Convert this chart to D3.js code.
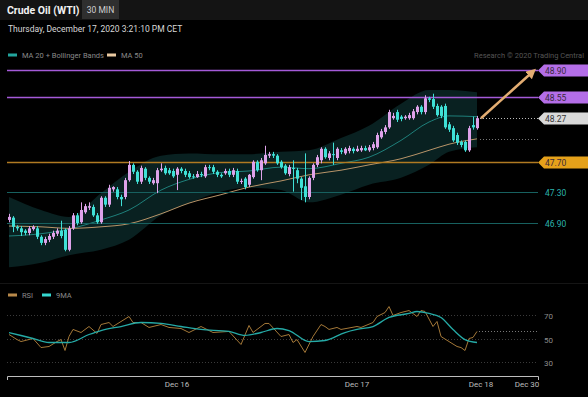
<!DOCTYPE html>
<html>
<head>
<meta charset="utf-8">
<script src="https://cdn.jsdelivr.net/npm/d3@7"></script>
<style>
  body { margin: 0; background: #000; overflow: hidden; }
  svg { display: block; font-family: Roboto, 'Liberation Sans', sans-serif; }
</style>
</head>
<body>
<svg id="chart" width="588" height="397"></svg>
<script>
// 30 min candles, Dec 15 evening -> Dec 17 15:00 CET
const opens = [
  46.94, 46.97, 46.85, 46.83, 46.80, 46.77, 46.82, 46.83, 46.72, 46.64,
  46.68, 46.72, 46.76, 46.80, 46.81, 46.55, 46.83, 47.00, 46.91, 47.04,
  47.10, 47.11, 47.00, 46.91, 47.23, 47.14, 47.34, 47.34, 47.24, 47.24,
  47.46, 47.66, 47.57, 47.44, 47.61, 47.49, 47.42, 47.42, 47.59, 47.62,
  47.59, 47.58, 47.53, 47.61, 47.58, 47.55, 47.51, 47.50, 47.54, 47.51,
  47.63, 47.63, 47.57, 47.53, 47.55, 47.58, 47.53, 47.58, 47.44, 47.48,
  47.40, 47.50, 47.70, 47.59, 47.68, 47.78, 47.80, 47.78, 47.70, 47.65,
  47.54, 47.62, 47.59, 47.48, 47.38, 47.24, 47.49, 47.66, 47.72, 47.87,
  47.75, 47.80, 47.75, 47.85, 47.81, 47.84, 47.87, 47.84, 47.85, 47.88,
  47.85, 47.88, 47.89, 48.02, 48.09, 48.15, 48.27, 48.35, 48.29, 48.27,
  48.27, 48.27, 48.35, 48.42, 48.35, 48.53, 48.52, 48.43, 48.42, 48.43,
  48.19, 48.14, 48.05, 47.96, 47.96, 47.85, 48.18, 48.14
];
const highs = [
  47.02, 46.99, 46.87, 46.86, 46.82, 46.86, 46.87, 46.86, 46.74, 46.72,
  46.76, 46.80, 46.83, 46.93, 46.83, 46.86, 47.03, 47.03, 47.17, 47.15,
  47.17, 47.14, 47.03, 47.25, 47.25, 47.40, 47.38, 47.37, 47.27, 47.49,
  47.71, 47.68, 47.59, 47.65, 47.63, 47.51, 47.49, 47.62, 47.68, 47.65,
  47.62, 47.61, 47.63, 47.63, 47.61, 47.58, 47.54, 47.58, 47.57, 47.66,
  47.66, 47.66, 47.59, 47.55, 47.61, 47.61, 47.62, 47.61, 47.48, 47.50,
  47.54, 47.72, 47.72, 47.75, 47.91, 47.83, 47.83, 47.80, 47.72, 47.67,
  47.66, 47.72, 47.62, 47.50, 47.81, 47.51, 47.68, 47.79, 47.89, 47.89,
  47.84, 47.95, 47.89, 47.88, 47.89, 47.91, 47.89, 47.91, 47.91, 47.91,
  47.92, 47.96, 48.08, 48.13, 48.18, 48.38, 48.34, 48.38, 48.31, 48.31,
  48.34, 48.39, 48.44, 48.44, 48.57, 48.55, 48.59, 48.46, 48.44, 48.46,
  48.22, 48.17, 48.08, 47.98, 47.98, 48.17, 48.29, 48.30
];
const lows = [
  46.91, 46.78, 46.80, 46.73, 46.74, 46.74, 46.80, 46.69, 46.61, 46.61,
  46.65, 46.69, 46.73, 46.70, 46.53, 46.53, 46.81, 46.87, 46.89, 47.02,
  47.07, 46.98, 46.89, 46.89, 47.11, 47.11, 47.31, 47.21, 47.12, 47.21,
  47.44, 47.54, 47.41, 47.41, 47.46, 47.41, 47.40, 47.29, 47.57, 47.53,
  47.53, 47.49, 47.33, 47.55, 47.50, 47.48, 47.48, 47.49, 47.50, 47.49,
  47.59, 47.54, 47.50, 47.49, 47.53, 47.50, 47.50, 47.41, 47.41, 47.34,
  47.37, 47.48, 47.57, 47.46, 47.66, 47.75, 47.75, 47.66, 47.61, 47.53,
  47.51, 47.31, 47.42, 47.20, 47.17, 47.21, 47.46, 47.63, 47.68, 47.74,
  47.72, 47.66, 47.72, 47.80, 47.79, 47.81, 47.81, 47.83, 47.83, 47.84,
  47.83, 47.85, 47.87, 48.00, 48.06, 48.13, 48.25, 48.22, 48.23, 48.25,
  48.25, 48.25, 48.32, 48.32, 48.32, 48.48, 48.39, 48.29, 48.27, 48.13,
  48.09, 47.96, 47.92, 47.89, 47.83, 47.83, 48.12, 48.12
];
const closes = [
  46.98, 46.85, 46.83, 46.78, 46.77, 46.83, 46.85, 46.72, 46.64, 46.69,
  46.73, 46.77, 46.80, 46.73, 46.55, 46.83, 47.00, 46.90, 47.07, 47.12,
  47.12, 47.00, 46.91, 47.23, 47.14, 47.36, 47.37, 47.24, 47.21, 47.46,
  47.66, 47.57, 47.44, 47.62, 47.49, 47.44, 47.46, 47.59, 47.61, 47.55,
  47.55, 47.51, 47.61, 47.58, 47.53, 47.50, 47.50, 47.54, 47.53, 47.63,
  47.62, 47.57, 47.53, 47.51, 47.58, 47.53, 47.59, 47.44, 47.45, 47.37,
  47.53, 47.70, 47.59, 47.72, 47.79, 47.80, 47.78, 47.68, 47.63, 47.55,
  47.63, 47.61, 47.48, 47.36, 47.24, 47.49, 47.66, 47.76, 47.87, 47.76,
  47.81, 47.79, 47.87, 47.83, 47.87, 47.88, 47.84, 47.87, 47.88, 47.85,
  47.89, 47.93, 48.05, 48.10, 48.15, 48.35, 48.30, 48.25, 48.26, 48.29,
  48.31, 48.36, 48.42, 48.35, 48.53, 48.51, 48.42, 48.31, 48.30, 48.15,
  48.12, 47.98, 47.95, 47.92, 47.85, 48.14, 48.15, 48.27
];

// indicators, sampled at these bar numbers
const maBars   = [0, 8, 15, 23, 30, 38, 45, 53, 60, 68, 75, 83, 90, 98, 105, 110, 117];
const ma20     = [46.73, 46.76, 46.82, 46.94, 47.07, 47.33, 47.47, 47.56, 47.58, 47.63, 47.61, 47.68, 47.76, 47.98, 48.22, 48.30, 48.29];
const bbUpper  = [47.24, 47.07, 46.98, 47.29, 47.57, 47.78, 47.81, 47.80, 47.80, 47.83, 47.85, 48.01, 48.17, 48.46, 48.64, 48.64, 48.61];
const bbLower  = [46.32, 46.38, 46.48, 46.55, 46.68, 47.00, 47.16, 47.31, 47.36, 47.33, 47.17, 47.27, 47.40, 47.49, 47.66, 47.83, 47.89];
const ma50     = [46.86, 46.85, 46.83, 46.85, 46.89, 47.02, 47.16, 47.27, 47.37, 47.45, 47.53, 47.59, 47.66, 47.74, 47.85, 47.93, 48.00];

const rsiBars = [0, 2, 3, 6, 8, 10, 12, 13, 14, 15, 16, 18, 20, 22, 23, 25, 26, 30, 31, 33, 35, 38, 40, 43, 45, 48, 51, 55, 58, 60,
  61, 64, 65, 68, 70, 71, 72, 74, 76, 78, 79, 80, 82, 83, 87, 88, 91, 92, 94, 95, 96, 98, 100, 102, 103, 104, 106, 107, 108, 110,
  112, 113, 114, 115, 116, 117];
const rsi = [53.4, 49.1, 47.4, 50.0, 42.3, 43.2, 47.4, 49.1, 39.8, 51.7, 57.7, 55.1, 60.2, 54.3, 61.9, 63.6, 60.2, 68.7, 63.6, 63.6,
  59.4, 61.9, 59.4, 58.5, 55.1, 60.2, 55.1, 56.0, 44.9, 61.1, 55.1, 62.8, 62.8, 51.7, 53.4, 46.6, 49.1, 38.1, 51.7, 61.9,
  60.2, 57.7, 59.4, 57.7, 60.2, 59.4, 63.6, 68.7, 72.1, 77.2, 69.6, 72.1, 73.8, 68.7, 73.8, 73.0, 60.2, 64.5, 51.7, 47.4,
  43.2, 42.3, 39.8, 50.0, 50.9, 56.0];
const rsiMaBars = [0, 6, 10, 15, 20, 23, 28, 33, 38, 43, 48, 55, 59, 63, 67, 70, 75, 79, 84, 87, 91, 95, 100, 102, 105, 108, 111, 114, 117];
const rsiMa = [55.1, 50.0, 46.6, 46.6, 53.4, 56.8, 60.2, 63.6, 62.8, 60.2, 57.7, 56.0, 52.6, 55.1, 58.5, 56.8, 47.4, 48.3, 55.1, 57.7,
  60.2, 67.9, 71.3, 73.0, 71.3, 67.9, 57.7, 49.1, 46.6];

const levelValues = [48.90, 48.55, 47.70, 47.30, 46.90];
const levelLine   = ['#a45ad8', '#a45ad8', '#b07a22', '#17605f', '#17605f'];
const levelTag    = ['#b46ee8', '#b46ee8', '#e5a11a', null, null];
const lastPrice = 48.27;
const targetBar = 131, targetPrice = 48.88;

const rsiLevels = [70, 50, 30];
const tickLabels = ['Dec 16', 'Dec 17', 'Dec 18', 'Dec 30'];
const tickBars = [42, 87, 118, 129.5];

const svg = d3.select('#chart');
const pink = '#dea2ea', cyan = '#3fe0d6';

const x = d3.scaleLinear().domain([-0.5, 132.5]).range([7, 539]);
const y = d3.scaleLinear().domain([46.90, 48.90]).range([223, 70]);
const yr = d3.scaleLinear().domain([30, 70]).range([362, 315]);

// header
svg.append('rect').attr('x', 0).attr('y', 0).attr('width', 588).attr('height', 20).attr('fill', '#141414');
svg.append('text').attr('x', 7).attr('y', 14).attr('fill', '#f2f2f2')
  .style('font-size', '10.5px').style('font-weight', 'bold').text('Crude Oil (WTI)');
svg.append('rect').attr('x', 82).attr('y', 0).attr('width', 37).attr('height', 19).attr('fill', '#2f2f2f');
svg.append('text').attr('x', 100.5).attr('y', 13).attr('text-anchor', 'middle').attr('fill', '#cfcfcf')
  .style('font-size', '8.5px').text('30 MIN');
svg.append('text').attr('x', 8).attr('y', 32).attr('fill', '#d8d8d8')
  .style('font-size', '8.5px').text('Thursday, December 17, 2020 3:21:10 PM CET');

// legend
const legend = [['MA 20 + Bollinger Bands', '#22a59d', 8], ['MA 50', '#e9c9a1', 107]];
legend.forEach(([label, col, lx]) => {
  svg.append('rect').attr('x', lx).attr('y', 53.5).attr('width', 9).attr('height', 3).attr('fill', col);
  svg.append('text').attr('x', lx + 14).attr('y', 58).attr('fill', '#8a8a8a').style('font-size', '7.5px').text(label);
});
svg.append('text').attr('x', 584).attr('y', 58).attr('text-anchor', 'end').attr('fill', '#555')
  .style('font-size', '7.5px').text('Research \u00a9 2020 Trading Central');

// bollinger band + moving averages
const ind = maBars.map((b, k) => ({b, ma20: ma20[k], up: bbUpper[k], lo: bbLower[k], ma50: ma50[k]}));
svg.append('path').datum(ind)
  .attr('fill', '#092121')
  .attr('d', d3.area().x(d => x(d.b)).y0(d => y(d.lo)).y1(d => y(d.up)).curve(d3.curveMonotoneX));
svg.append('path').datum(ind).attr('fill', 'none').attr('stroke', '#1e7f7a').attr('stroke-width', 1)
  .attr('d', d3.line().x(d => x(d.b)).y(d => y(d.ma20)).curve(d3.curveMonotoneX));
svg.append('path').datum(ind).attr('fill', 'none').attr('stroke', '#b89468').attr('stroke-width', 1)
  .attr('d', d3.line().x(d => x(d.b)).y(d => y(d.ma50)).curve(d3.curveMonotoneX));

// level lines
levelValues.forEach((v, k) => {
  const yy = Math.round(y(v)) + 0.5;
  svg.append('line').attr('x1', 7).attr('x2', 538).attr('y1', yy).attr('y2', yy)
    .attr('stroke', levelLine[k]).attr('stroke-width', levelTag[k] ? 1.5 : 1);
  if (levelTag[k]) {
    svg.append('path').attr('fill', levelTag[k])
      .attr('d', `M538,${yy} L544,${yy - 6} L588,${yy - 6} L588,${yy + 6} L544,${yy + 6} Z`);
    svg.append('text').attr('x', 545).attr('y', yy + 3.5).attr('fill', '#3a2a3a')
      .style('font-size', '8.5px').text(v.toFixed(2));
  } else {
    svg.append('text').attr('x', 545).attr('y', yy + 3.5).attr('fill', '#2bb3ad')
      .style('font-size', '8.5px').text(v.toFixed(2));
  }
});

// candles
const bars = closes.map((c, i) => ({i, o: opens[i], h: highs[i], l: lows[i], c}));
const cg = svg.append('g');
cg.selectAll('line').data(bars).enter().append('line')
  .attr('x1', d => Math.round(x(d.i)) + 0.5).attr('x2', d => Math.round(x(d.i)) + 0.5)
  .attr('y1', d => y(d.h)).attr('y2', d => y(d.l))
  .attr('stroke', d => d.c >= d.o ? pink : cyan).attr('stroke-width', 1);
cg.selectAll('rect').data(bars).enter().append('rect')
  .attr('x', d => Math.round(x(d.i)) - 1).attr('width', 3)
  .attr('y', d => y(Math.max(d.o, d.c)))
  .attr('height', d => Math.max(1, Math.abs(y(d.o) - y(d.c))))
  .attr('fill', d => d.c >= d.o ? pink : cyan);

// last price / ma50 dotted guides + tag
const last = bars.length - 1;
const lpY = Math.round(y(lastPrice)) + 0.5;
svg.append('line').attr('x1', x(last) + 3).attr('x2', 538).attr('y1', lpY).attr('y2', lpY)
  .attr('stroke', '#bbb').attr('stroke-dasharray', '1,2');
const maY = Math.round(y(ma50[ma50.length - 1])) + 0.5;
svg.append('line').attr('x1', x(last) + 3).attr('x2', 538).attr('y1', maY).attr('y2', maY)
  .attr('stroke', '#777').attr('stroke-dasharray', '1,2');
svg.append('path').attr('fill', '#d9d9d9')
  .attr('d', `M538,${lpY} L544,${lpY - 6} L588,${lpY - 6} L588,${lpY + 6} L544,${lpY + 6} Z`);
svg.append('text').attr('x', 545).attr('y', lpY + 3.5).attr('fill', '#333')
  .style('font-size', '8.5px').text(lastPrice.toFixed(2));

// target arrow
svg.append('defs').append('marker').attr('id', 'ah').attr('viewBox', '0 0 10 10')
  .attr('refX', 6).attr('refY', 5).attr('markerWidth', 4).attr('markerHeight', 4).attr('orient', 'auto')
  .append('path').attr('d', 'M0,0 L10,5 L0,10 Z').attr('fill', '#e3ad72');
svg.append('line')
  .attr('x1', x(last + 1)).attr('y1', y(lastPrice))
  .attr('x2', x(targetBar)).attr('y2', y(targetPrice))
  .attr('stroke', '#e3ad72').attr('stroke-width', 2.5).attr('marker-end', 'url(#ah)');

// RSI panel
svg.append('line').attr('x1', 0).attr('x2', 588).attr('y1', 283.5).attr('y2', 283.5).attr('stroke', '#151515');
const legend2 = [['RSI', '#b8894a', 8], ['9MA', '#35d8d0', 42]];
legend2.forEach(([label, col, lx]) => {
  svg.append('rect').attr('x', lx).attr('y', 293.5).attr('width', 9).attr('height', 3).attr('fill', col);
  svg.append('text').attr('x', lx + 14).attr('y', 298).attr('fill', '#8a8a8a').style('font-size', '7.5px').text(label);
});
rsiLevels.forEach(v => {
  const yy = Math.round(yr(v)) + 0.5;
  svg.append('line').attr('x1', 7).attr('x2', 538).attr('y1', yy).attr('y2', yy)
    .attr('stroke', '#3a3a3a').attr('stroke-dasharray', '1,2');
  svg.append('text').attr('x', 544).attr('y', yy + 3).attr('fill', '#8c8c8c')
    .style('font-size', '8px').text(v);
});
const rsiY = Math.round(yr(rsi[rsi.length - 1])) + 0.5;
svg.append('line').attr('x1', x(last) + 2).attr('x2', 538).attr('y1', rsiY).attr('y2', rsiY)
  .attr('stroke', '#777').attr('stroke-dasharray', '1,2');

svg.append('path').datum(rsiBars.map((b, k) => [b, rsi[k]]))
  .attr('fill', 'none').attr('stroke', '#a47838').attr('stroke-width', 1)
  .attr('d', d3.line().x(d => x(d[0])).y(d => yr(d[1])));
svg.append('path').datum(rsiMaBars.map((b, k) => [b, rsiMa[k]]))
  .attr('fill', 'none').attr('stroke', '#25aaa6').attr('stroke-width', 1.3)
  .attr('d', d3.line().x(d => x(d[0])).y(d => yr(d[1])).curve(d3.curveMonotoneX));

// time axis
const ax = svg.append('g');
ax.append('path').attr('fill', 'none').attr('stroke', '#bdbdbd')
  .attr('d', 'M7.5,380 V376.5 H538.5 V380');
tickLabels.forEach((t, k) => {
  ax.append('text').attr('x', x(tickBars[k])).attr('y', 387).attr('text-anchor', 'middle')
    .attr('fill', '#bdbdbd').style('font-size', '8px').text(t);
});
</script>
</body>
</html>
